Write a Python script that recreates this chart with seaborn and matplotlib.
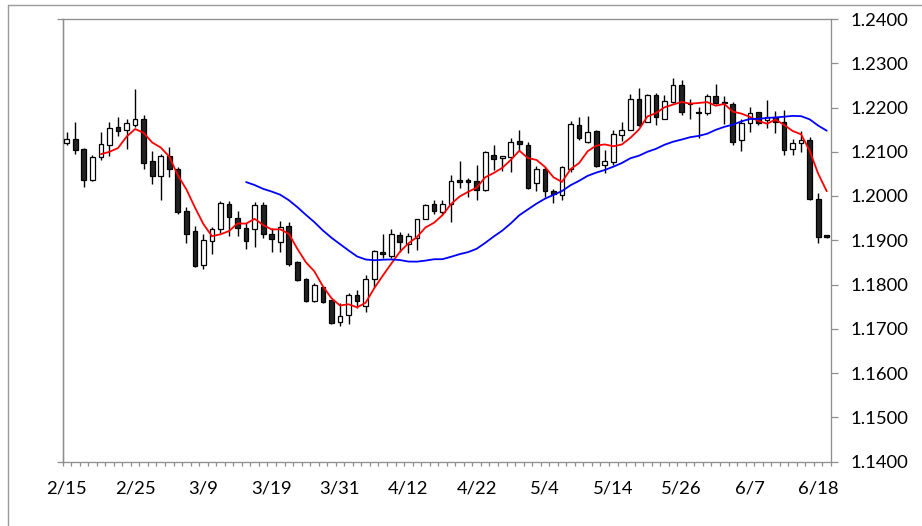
import numpy as np
import pandas as pd
import matplotlib
matplotlib.use("Agg")
import matplotlib.pyplot as plt
import seaborn as sns
from matplotlib.lines import Line2D

# ---- data ----
open_ = [1.2120, 1.2128, 1.2106, 1.2036, 1.2088, 1.2115, 1.2155, 1.2149, 1.2160, 1.2175,
         1.2079, 1.2045, 1.2090, 1.2062, 1.1966, 1.1920, 1.1843, 1.1898, 1.1925, 1.1981,
         1.1950, 1.1927, 1.1925, 1.1979, 1.1914, 1.1896, 1.1933, 1.1850, 1.1813, 1.1763,
         1.1794, 1.1764, 1.1715, 1.1730, 1.1776, 1.1751, 1.1812, 1.1873, 1.1864, 1.1911,
         1.1891, 1.1904, 1.1949, 1.1981, 1.1964, 1.1981, 1.2036, 1.2037, 1.2033, 1.2013,
         1.2092, 1.2085, 1.2088, 1.2125, 1.2115, 1.2030, 1.2062, 1.2011, 1.2002, 1.2062,
         1.2160, 1.2122, 1.2147, 1.2071, 1.2077, 1.2138, 1.2150, 1.2220, 1.2168, 1.2228,
         1.2175, 1.2213, 1.2251, 1.2211, 1.2190, 1.2187, 1.2225, 1.2213, 1.2209, 1.2126,
         1.2165, 1.2189, 1.2171, 1.2179, 1.2168, 1.2107, 1.2119, 1.2126, 1.1994, 1.1911]
high = [1.2144, 1.2168, 1.2109, 1.2092, 1.2144, 1.2168, 1.2179, 1.2174, 1.2241, 1.2184,
        1.2101, 1.2095, 1.2111, 1.2065, 1.1975, 1.1932, 1.1915, 1.1929, 1.1989, 1.1988,
        1.1966, 1.1938, 1.1986, 1.1987, 1.1927, 1.1944, 1.1941, 1.1852, 1.1815, 1.1803,
        1.1796, 1.1766, 1.1758, 1.1781, 1.1787, 1.1821, 1.1877, 1.1914, 1.1926, 1.1919,
        1.1916, 1.1949, 1.1983, 1.1992, 1.1991, 1.2047, 1.2079, 1.2041, 1.2070, 1.2102,
        1.2116, 1.2090, 1.2130, 1.2149, 1.2122, 1.2067, 1.2066, 1.2015, 1.2067, 1.2170,
        1.2178, 1.2180, 1.2150, 1.2105, 1.2150, 1.2168, 1.2231, 1.2243, 1.2231, 1.2233,
        1.2228, 1.2266, 1.2262, 1.2220, 1.2201, 1.2231, 1.2253, 1.2226, 1.2213, 1.2175,
        1.2201, 1.2190, 1.2217, 1.2192, 1.2194, 1.2128, 1.2147, 1.2134, 1.2006, 1.1912]
low = [1.2115, 1.2094, 1.2021, 1.2034, 1.2081, 1.2090, 1.2135, 1.2107, 1.2156, 1.2060,
       1.2027, 1.1992, 1.2042, 1.1960, 1.1893, 1.1840, 1.1834, 1.1869, 1.1916, 1.1909,
       1.1910, 1.1881, 1.1885, 1.1906, 1.1874, 1.1874, 1.1841, 1.1808, 1.1760, 1.1761,
       1.1759, 1.1710, 1.1706, 1.1710, 1.1747, 1.1738, 1.1794, 1.1861, 1.1861, 1.1874,
       1.1871, 1.1879, 1.1947, 1.1960, 1.1960, 1.1942, 1.2019, 1.1998, 1.1992, 1.2011,
       1.2058, 1.2057, 1.2055, 1.2104, 1.2015, 1.2011, 1.1998, 1.1985, 1.1992, 1.2055,
       1.2126, 1.2120, 1.2066, 1.2051, 1.2070, 1.2125, 1.2149, 1.2158, 1.2167, 1.2160,
       1.2173, 1.2211, 1.2183, 1.2173, 1.2132, 1.2183, 1.2209, 1.2162, 1.2115, 1.2102,
       1.2145, 1.2160, 1.2153, 1.2143, 1.2092, 1.2092, 1.2100, 1.1992, 1.1893, 1.1905]
close = [1.2128, 1.2104, 1.2036, 1.2088, 1.2117, 1.2154, 1.2147, 1.2164, 1.2175, 1.2074,
         1.2045, 1.2090, 1.2062, 1.1964, 1.1915, 1.1842, 1.1900, 1.1925, 1.1985, 1.1952,
         1.1928, 1.1898, 1.1979, 1.1915, 1.1902, 1.1930, 1.1847, 1.1810, 1.1763, 1.1798,
         1.1761, 1.1713, 1.1728, 1.1777, 1.1763, 1.1813, 1.1876, 1.1870, 1.1913, 1.1896,
         1.1909, 1.1947, 1.1979, 1.1966, 1.1983, 1.2034, 1.2032, 1.2032, 1.2013, 1.2100,
         1.2083, 1.2090, 1.2122, 1.2117, 1.2017, 1.2062, 1.2011, 1.2004, 1.2065, 1.2162,
         1.2130, 1.2145, 1.2067, 1.2079, 1.2141, 1.2150, 1.2220, 1.2160, 1.2228, 1.2179,
         1.2215, 1.2251, 1.2190, 1.2208, 1.2187, 1.2225, 1.2210, 1.2210, 1.2122, 1.2164,
         1.2188, 1.2164, 1.2179, 1.2168, 1.2105, 1.2119, 1.2126, 1.1994, 1.1908, 1.1907]
date_labels = ["2/15", "2/25", "3/9", "3/19", "3/31", "4/12",
               "4/22", "5/4", "5/14", "5/26", "6/7", "6/18"]
label_every = 8
short_window = 5
long_window = 22
y_ticks = [1.14, 1.15, 1.16, 1.17, 1.18, 1.19, 1.20, 1.21, 1.22, 1.23, 1.24]

# ---- styling ----
sns.set_theme(style="white")
plt.rcParams['font.family'] = ['Lato', 'DejaVu Sans']
GRAY = "#8f8f8f"
FS = 13.3

df = pd.DataFrame({"x": np.arange(len(close)), "open": open_, "high": high,
                   "low": low, "close": close})
df["ma_short"] = df["close"].rolling(short_window).mean()
df["ma_long"] = df["close"].rolling(long_window).mean()

W, H = 922, 526
fig = plt.figure(figsize=(W / 100, H / 100), dpi=100)
fig.patch.set_facecolor("white")
left, right, top, bottom = 62.5, 831, 19, 461.5
ax = fig.add_axes([left / W, 1 - bottom / H, (right - left) / W, (bottom - top) / H])
ax.set_facecolor("white")

# wicks
ax.vlines(df["x"], df["low"], df["high"], color="black", lw=1.0, zorder=2)
# bodies
up = df["close"] >= df["open"]
body_bottom = np.minimum(df["open"], df["close"])
body_h = np.maximum(np.abs(df["close"] - df["open"]), 0.00012)
ax.bar(df["x"], body_h, bottom=body_bottom, width=0.55,
       color=np.where(up, "white", "#222222"), edgecolor="black", linewidth=0.9, zorder=3)

sns.lineplot(data=df, x="x", y="ma_short", color="#FF0000", lw=1.3,
             estimator=None, ax=ax, zorder=4)
sns.lineplot(data=df, x="x", y="ma_long", color="#0000FF", lw=1.3,
             estimator=None, ax=ax, zorder=4)

ax.set_xlim(-0.5, len(close) - 0.5)
ax.set_ylim(y_ticks[0], y_ticks[-1])
ax.set_xlabel("")
ax.set_ylabel("")

# x axis
ax.set_xticks(np.arange(len(date_labels)) * label_every)
ax.set_xticklabels(date_labels)
ax.set_xticks(np.arange(-0.5, len(close) + 0.5, 1.0), minor=True)
ax.tick_params(axis="x", which="major", length=0, pad=14, labelsize=FS, labelcolor="black")
ax.tick_params(axis="x", which="minor", direction="out", length=2.9, width=0.9,
               color=GRAY, bottom=True)

# right value axis
ax.yaxis.tick_right()
ax.set_yticks(y_ticks)
ax.set_yticklabels([f"{v:.4f}" for v in y_ticks])
ax.tick_params(axis="y", which="major", direction="out", length=5, width=0.9,
               color=GRAY, pad=9, labelsize=FS, labelcolor="black")

# left axis: ticks only at ends
sec = ax.secondary_yaxis("left")
sec.set_yticks([y_ticks[0], y_ticks[-1]])
sec.set_yticklabels([])
sec.tick_params(axis="y", direction="out", length=4, width=0.9, color=GRAY)
sec.spines["left"].set_color(GRAY)
sec.spines["left"].set_linewidth(0.95)

for s in ax.spines.values():
    s.set_color(GRAY)
    s.set_linewidth(0.95)
    s.set_visible(True)
ax.grid(False)

# chart-area border
bx, by = 8 / W, 1 - 5 / H
fig.add_artist(Line2D([bx, bx], [0, by], transform=fig.transFigure, color="#9a9a9a", lw=1.0))
fig.add_artist(Line2D([bx, 1], [by, by], transform=fig.transFigure, color="#9a9a9a", lw=1.0))

fig.savefig("out.png", dpi=100, facecolor="white")
